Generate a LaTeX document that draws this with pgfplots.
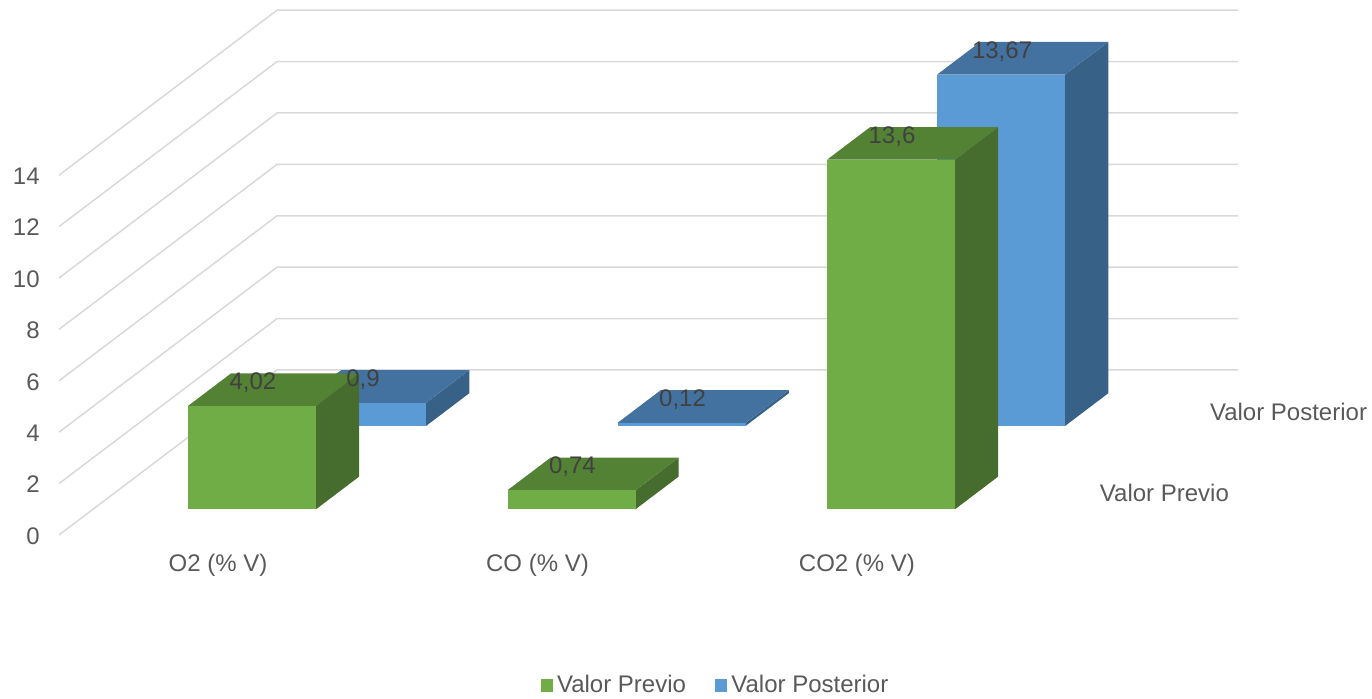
\documentclass[border=0pt]{standalone}
\usepackage{fontspec}
\setmainfont{Liberation Sans}
\usepackage{pgfplots}
\pgfplotsset{compat=1.18}
\definecolor{GFront}{HTML}{70AD47}
\definecolor{GTop}{HTML}{548235}
\definecolor{GSide}{HTML}{466D2D}
\definecolor{BFront}{HTML}{5B9BD5}
\definecolor{BTop}{HTML}{4472A0}
\definecolor{BSide}{HTML}{386188}
\definecolor{GridC}{HTML}{D9D9D9}
\definecolor{TxtC}{HTML}{595959}
\definecolor{LblC}{HTML}{404040}
% #1 category centre, #2 front depth, #3 back depth, #4 value, #5 front, #6 top, #7 side colour
\newcommand\drawbar[7]{%
  \pgfmathsetmacro\xa{#1-64}%
  \pgfmathsetmacro\xb{#1+64}%
  \edef\tmp{%
    \noexpand\addplot3[fill=#7,draw=none] coordinates {(\xb,#2,0) (\xb,#3,0) (\xb,#3,#4) (\xb,#2,#4)};
    \noexpand\addplot3[fill=#6,draw=none] coordinates {(\xa,#2,#4) (\xb,#2,#4) (\xb,#3,#4) (\xa,#3,#4)};
    \noexpand\addplot3[fill=#5,draw=none] coordinates {(\xa,#2,0) (\xb,#2,0) (\xb,#2,#4) (\xa,#2,#4)};
  }\tmp}
\begin{document}
\fontsize{12}{14.4}\selectfont
\begin{tikzpicture}
\begin{axis}[
  x={(0.5pt,0pt)}, y={(109pt,82.5pt)}, z={(0pt,12.85pt)},
  xmin=59, xmax=1020, ymin=0, ymax=1, zmin=0, zmax=14,
  hide axis, clip=false,
  legend image code/.code={\fill[#1] (0pt,-3.1pt) rectangle (6.2pt,3.1pt);},
  legend columns=2,
  legend style={at={(axis cs:716.5,0,-5.85)}, anchor=center, draw=none, fill=none,
    inner sep=0pt, nodes={inner sep=2pt, text=TxtC, font=\fontsize{12}{14.4}\selectfont},
    /tikz/every even column/.append style={column sep=12.5pt}},
]
\addlegendimage{fill=GFront, draw=none}
\addlegendimage{fill=BFront, draw=none}
\legend{Valor Previo, Valor Posterior}
% gridlines
\pgfplotsinvokeforeach{0,2,...,14}{
  \addplot3[GridC, line width=0.75pt, mark=none] coordinates {(59,0,#1) (59,1,#1) (1020,1,#1)};
}
% Valor Posterior (back row)
\drawbar{218}{0.661}{0.859}{0.9}{BFront}{BTop}{BSide}
\drawbar{537.5}{0.661}{0.859}{0.12}{BFront}{BTop}{BSide}
\drawbar{857}{0.661}{0.859}{13.67}{BFront}{BTop}{BSide}
% Valor Previo (front row)
\drawbar{218}{0.156}{0.354}{4.02}{GFront}{GTop}{GSide}
\drawbar{537.5}{0.156}{0.354}{0.74}{GFront}{GTop}{GSide}
\drawbar{857}{0.156}{0.354}{13.6}{GFront}{GTop}{GSide}
% data labels
\addplot3[only marks, mark=none,
  nodes near coords, point meta=explicit symbolic,
  every node near coord/.append style={anchor=center, xshift=-10.3pt, yshift=3.5pt,
    text=LblC, font=\fontsize{12}{14.4}\selectfont}]
  coordinates {
  (218,0.255,4.02) [4,02]
  (537.5,0.255,0.74) [0,74]
  (857,0.255,13.6) [13,6]
  (218,0.76,0.9) [0,9]
  (537.5,0.76,0.12) [0,12]
  (857,0.76,13.67) [13,67]
  };
% value tick labels
\pgfplotsinvokeforeach{0,2,...,14}{
  \node[anchor=east, text=TxtC, xshift=-5.5pt, yshift=-0.5pt] at (axis cs:59,0,#1) {#1};
}
% category labels
\node[text=TxtC, yshift=-15pt] at (axis cs:218,0,0) {O2 (\% V)};
\node[text=TxtC, yshift=-15pt] at (axis cs:537.5,0,0) {CO (\% V)};
\node[text=TxtC, yshift=-15pt] at (axis cs:857,0,0) {CO2 (\% V)};
% series labels (depth axis)
\node[anchor=west, text=TxtC, xshift=8pt] at (axis cs:1020,0.255,0) {Valor Previo};
\node[anchor=west, text=TxtC, xshift=8pt, yshift=-1pt] at (axis cs:1020,0.76,0) {Valor Posterior};
\coordinate (bbA) at (axis cs:0,0,20.817);
\coordinate (bbB) at (axis cs:1372,0,-6.381);
\end{axis}
\pgfresetboundingbox
\path[use as bounding box] (bbA) rectangle (bbB);
\end{tikzpicture}
\end{document}
